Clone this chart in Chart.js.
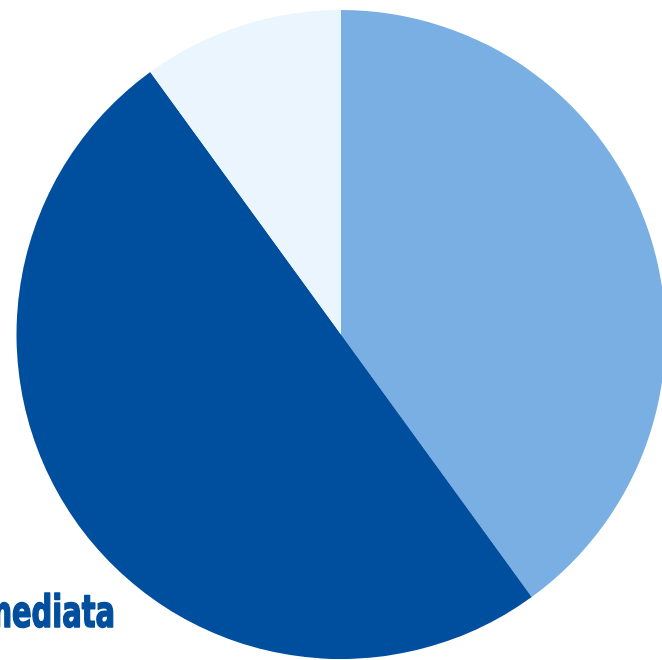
<!DOCTYPE html>
<html>
<head>
<meta charset="utf-8">
<script src="https://cdn.jsdelivr.net/npm/chart.js@4"></script>
<style>
  html, body { margin: 0; padding: 0; background: #fff; overflow: hidden; }
  #wrap { position: absolute; left: 0; top: 0; width: 682px; height: 669px; }
</style>
</head>
<body>
<div id="wrap"><canvas id="pieChart"></canvas></div>
<script>
// slice data, clockwise from the top
const labels = ['Differita', 'Immediata', 'Altro'];
const values = [40, 50, 10];
const colors = ['#7AAFE3', '#004F9E', '#EAF5FE'];

// draws the cut-off label at the bottom left, squeezed to look condensed
const sliceLabel = {
  id: 'sliceLabel',
  afterDraw(chart) {
    const ctx = chart.ctx;
    ctx.save();
    ctx.font = 'bold 44px "DejaVu Sans Condensed", "DejaVu Sans", sans-serif';
    ctx.fillStyle = '#004F9E';
    ctx.strokeStyle = '#004F9E';
    ctx.lineWidth = 1.6;
    ctx.lineJoin = 'round';
    ctx.textAlign = 'right';
    ctx.textBaseline = 'alphabetic';
    const sx = 103 / ctx.measureText('ediata').width;
    ctx.translate(115, 627);
    ctx.scale(sx, 1);
    ctx.fillText(labels[1], 0, 0);
    ctx.strokeText(labels[1], 0, 0);
    ctx.restore();
  }
};

new Chart(document.getElementById('pieChart').getContext('2d'), {
  type: 'pie',
  data: {
    labels: labels,
    datasets: [{
      data: values,
      backgroundColor: colors,
      borderWidth: 0
    }]
  },
  options: {
    responsive: true,
    maintainAspectRatio: false,
    animation: false,
    layout: { padding: { left: 16, right: 16, top: 10, bottom: 10 } },
    plugins: {
      legend: { display: false },
      tooltip: { enabled: false }
    }
  },
  plugins: [sliceLabel]
});
</script>
</body>
</html>
